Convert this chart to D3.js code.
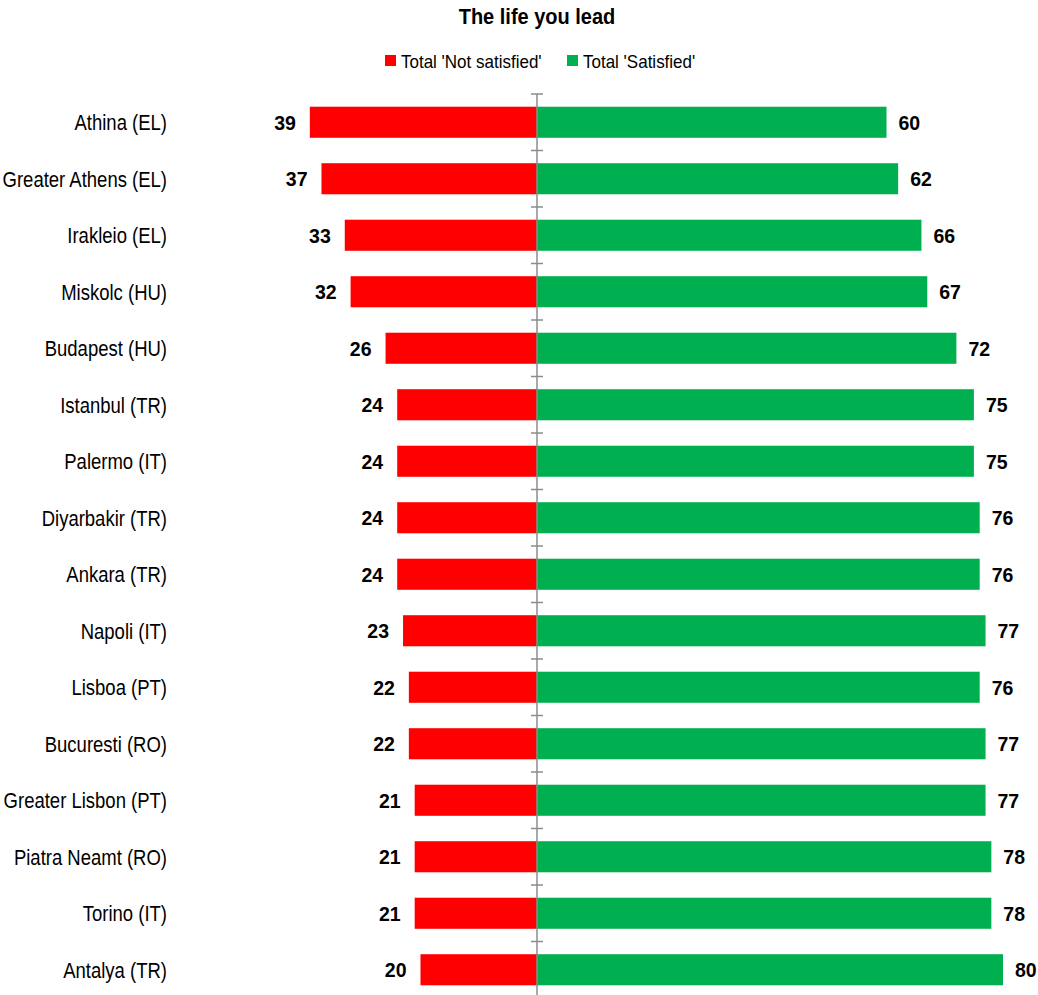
<!DOCTYPE html>
<html>
<head>
<meta charset="utf-8">
<script src="https://cdn.jsdelivr.net/npm/d3@7"></script>
<style>
  body { margin: 0; background: #fff; }
  text { font-family: "Liberation Sans", Arial, sans-serif; fill: #000; }
</style>
</head>
<body>
<svg id="chart"></svg>
<script>
// Chart data
const cities = [
  "Athina (EL)", "Greater Athens (EL)", "Irakleio (EL)", "Miskolc (HU)",
  "Budapest (HU)", "Istanbul (TR)", "Palermo (IT)", "Diyarbakir (TR)",
  "Ankara (TR)", "Napoli (IT)", "Lisboa (PT)", "Bucuresti (RO)",
  "Greater Lisbon (PT)", "Piatra Neamt (RO)", "Torino (IT)", "Antalya (TR)"
];
const notSatisfied = [39, 37, 33, 32, 26, 24, 24, 24, 24, 23, 22, 22, 21, 21, 21, 20];
const satisfied = [60, 62, 66, 67, 72, 75, 75, 76, 76, 77, 76, 77, 77, 78, 78, 80];
const seriesNames = ["Total 'Not satisfied'", "Total 'Satisfied'"];
const colors = ["#ff0000", "#00b050"];

const width = 1038;
const height = 995;

const svg = d3.select("#chart").attr("width", width).attr("height", height);

// Scales
const xScale = d3.scaleLinear().domain([-40, 80]).range([304, 1003]);
const yScale = d3.scaleBand().domain(cities).range([94, 998]).paddingInner(0.45).paddingOuter(0.225);

// the original text is a bit taller than it is wide
const place = (x, y, s) => "translate(" + x + "," + y + ") scale(1," + s + ")";

// Title
svg
  .append("text")
  .attr("transform", place(537, 16, 1.12))
  .attr("dy", ".35em")
  .attr("text-anchor", "middle")
  .style("font-size", "20px")
  .style("font-weight", "bold")
  .text("The life you lead");

// Legend
const legendX = [385, 567];
const legend = svg
  .selectAll(".legend")
  .data(seriesNames)
  .enter()
  .append("g")
  .attr("class", "legend")
  .attr("transform", (d, i) => "translate(" + legendX[i] + ",55)");

legend.append("rect").attr("width", 11).attr("height", 11).style("fill", (d, i) => colors[i]);

legend
  .append("text")
  .attr("transform", place(16, 6, 1.1))
  .attr("dy", ".35em")
  .style("font-size", "17px")
  .text((d) => d);

// Bars
const rows = cities.map((c, i) => ({ city: c, neg: notSatisfied[i], pos: satisfied[i] }));

svg
  .selectAll(".bar-neg")
  .data(rows)
  .enter()
  .append("rect")
  .attr("class", "bar-neg")
  .attr("x", (d) => xScale(-d.neg))
  .attr("y", (d) => yScale(d.city))
  .attr("width", (d) => xScale(0) - xScale(-d.neg))
  .attr("height", yScale.bandwidth())
  .style("fill", colors[0]);

svg
  .selectAll(".bar-pos")
  .data(rows)
  .enter()
  .append("rect")
  .attr("class", "bar-pos")
  .attr("x", xScale(0))
  .attr("y", (d) => yScale(d.city))
  .attr("width", (d) => xScale(d.pos) - xScale(0))
  .attr("height", yScale.bandwidth())
  .style("fill", colors[1]);

// Value labels
const mid = (d) => yScale(d.city) + yScale.bandwidth() / 2;

svg
  .selectAll(".lbl-neg")
  .data(rows)
  .enter()
  .append("text")
  .attr("transform", (d) => place(xScale(-d.neg) - 14, mid(d), 1.08))
  .attr("dy", ".35em")
  .attr("text-anchor", "end")
  .style("font-size", "19.5px")
  .style("font-weight", "bold")
  .text((d) => d.neg);

svg
  .selectAll(".lbl-pos")
  .data(rows)
  .enter()
  .append("text")
  .attr("transform", (d) => place(xScale(d.pos) + 12, mid(d), 1.08))
  .attr("dy", ".35em")
  .style("font-size", "19.5px")
  .style("font-weight", "bold")
  .text((d) => d.pos);

// Category labels
svg
  .selectAll(".cat")
  .data(cities)
  .enter()
  .append("text")
  .attr("transform", (d) => place(167, yScale(d) + yScale.bandwidth() / 2, 1.2))
  .attr("dy", ".35em")
  .attr("text-anchor", "end")
  .style("font-size", "18.5px")
  .text((d) => d);

// Centre axis with ticks between categories
const axis = svg.append("g").attr("transform", "translate(" + xScale(0) + ",0)");
axis
  .append("line")
  .attr("y1", yScale.range()[0])
  .attr("y2", yScale.range()[1])
  .style("stroke", "#8c8c8c")
  .style("stroke-width", 1.5);

const tickY = cities.map((c) => yScale(c) - (yScale.step() * yScale.paddingInner()) / 2);
axis
  .selectAll(".tick")
  .data(tickY)
  .enter()
  .append("line")
  .attr("x1", -6)
  .attr("x2", 6)
  .attr("y1", (d) => d)
  .attr("y2", (d) => d)
  .style("stroke", "#8c8c8c")
  .style("stroke-width", 1.5);
</script>
</body>
</html>
